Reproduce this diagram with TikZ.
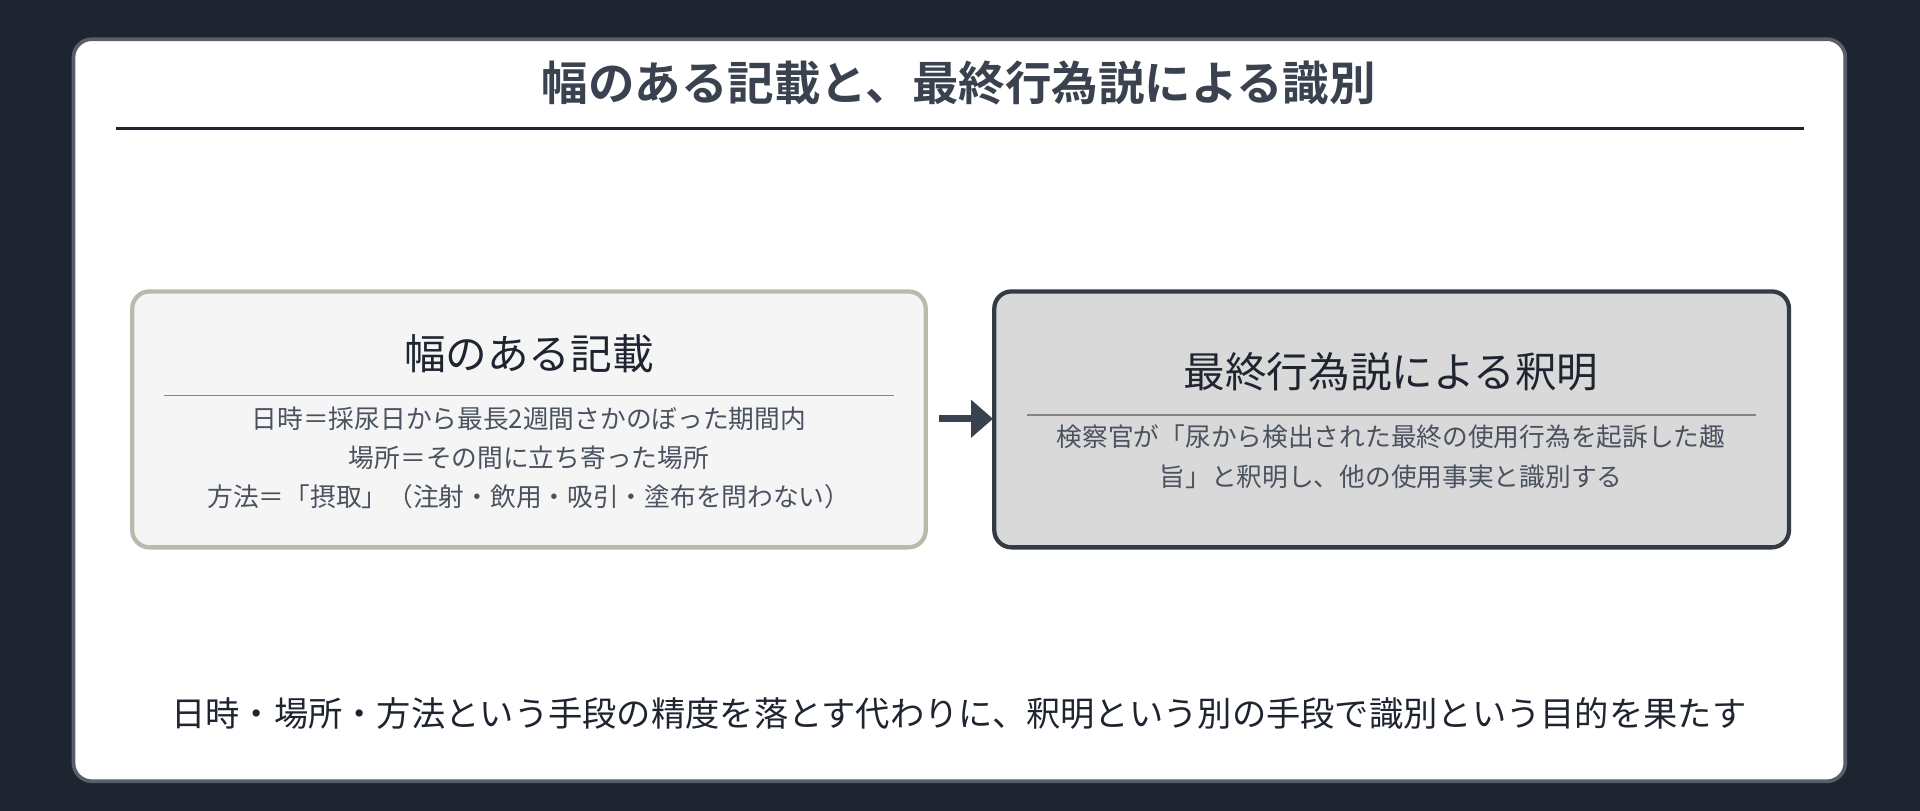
\documentclass[tikz,border=0pt]{standalone}
\usepackage{fontspec}
\setmainfont{Noto Sans CJK JP}
\newfontfamily\jpb{Noto Sans CJK JP}[BoldFont={* Bold}]
\usetikzlibrary{arrows.meta}
\definecolor{bg}{HTML}{1E2530}
\definecolor{ink}{HTML}{3A4250}
\definecolor{txt}{HTML}{4A5260}
\begin{document}
\begin{tikzpicture}[x=1pt,y=-1pt,
  box/.style={rounded corners=14pt,line width=3.5pt},
  rulel/.style={line width=1.5pt,draw=txt!70},
  body/.style={font=\fontsize{21}{32}\selectfont,text=txt,align=center}]
\fill[bg] (0,0) rectangle (1568,662);
\useasboundingbox (0,0) rectangle (1568,662);
\draw[fill=white,draw=ink!85,line width=3pt,rounded corners=15pt] (60,32) rectangle (1507,638);
\node[font=\jpb\bfseries\fontsize{38}{44}\selectfont,text=ink] (title) at (783,68) {幅のある記載と、最終行為説による識別};
\draw[line width=2pt,draw=bg] (95,105) -- (1473,105);
\draw[box,fill=gray!8,draw=gray!110!blue!60] (108,238) rectangle (756,447);
\node[font=\fontsize{34}{40}\selectfont,text=bg] (lt) at (432,289) {幅のある記載};
\draw[rulel] (134,323) -- (730,323);
\node[body] (lb) at (432,374) {日時＝採尿日から最長2週間さかのぼった期間内\\場所＝その間に立ち寄った場所\\方法＝「摂取」（注射・飲用・吸引・塗布を問わない）};
\draw[box,fill=gray!30,draw=bg!90] (812,238) rectangle (1461,447);
\node[font=\fontsize{34}{40}\selectfont,text=bg] (rt) at (1136,304) {最終行為説による釈明};
\draw[rulel] (839,339) -- (1434,339);
\node[body] (rb) at (1136,373) {検察官が「尿から検出された最終の使用行為を起訴した趣\\旨」と釈明し、他の使用事実と識別する};
\coordinate (a1) at (767,342); \coordinate (a2) at (811,342);
\draw[line width=6pt,draw=ink,-{Triangle[length=18pt,width=30pt]}] (a1) -- (a2);
\node[font=\fontsize{28}{34}\selectfont,text=bg] (foot) at (783,583) {日時・場所・方法という手段の精度を落とす代わりに、釈明という別の手段で識別という目的を果たす};
\end{tikzpicture}
\end{document}
